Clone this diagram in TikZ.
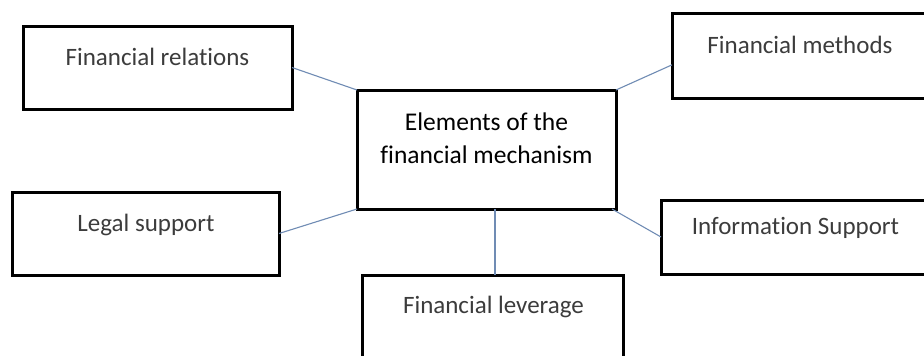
\documentclass[tikz,border=0pt]{standalone}
\usepackage{fontspec}
\setmainfont[Ligatures={NoCommon}]{Carlito}
\usetikzlibrary{calc}
\definecolor{linkblue}{RGB}{112,140,180}
\definecolor{sidetext}{RGB}{60,60,60}
\tikzset{
  box/.style={draw=black, line width=3pt, inner sep=0pt, outer sep=0pt, fill=white},
  sidelabel/.style={anchor=base, inner sep=0pt, text=sidetext, font=\fontsize{25}{30}\selectfont},
  mainlabel/.style={anchor=base, inner sep=0pt, text=black, font=\fontsize{25.5}{31}\selectfont},
  link/.style={draw=linkblue, line width=1.1pt}
}
\begin{document}
\begin{tikzpicture}[x=1pt,y=-1pt]
\fill[white] (0,0) rectangle (924,356);
\useasboundingbox (0,0) rectangle (924,356);
\clip (0,0) rectangle (924,356);
% boxes
\node[box, minimum width=269pt, minimum height=83pt] (rel) at (157.5,67.5) {};
\node[box, minimum width=256pt, minimum height=85pt] (meth) at (800,55.5) {};
\node[box, minimum width=259pt, minimum height=119pt] (ctr) at (486.5,149.5) {};
\node[box, minimum width=267pt, minimum height=83pt] (legal) at (145.5,233.5) {};
\node[box, minimum width=270pt, minimum height=74pt] (info) at (796,237) {};
\node[box, minimum width=261pt, minimum height=90pt] (lev) at (492.5,320) {};
% labels
\node[sidelabel] (relT) at (157.5,65) {Financial relations};
\node[sidelabel] (methT) at (800,53) {Financial methods};
\node[mainlabel] (ctrA) at (486.5,130) {Elements of the};
\node[mainlabel] (ctrB) at (486.5,163) {financial mechanism};
\node[sidelabel] (legalT) at (146,231) {Legal support};
\node[sidelabel] (infoT) at (795.5,234) {Information Support};
\node[sidelabel] (levT) at (493.5,313) {Financial leverage};
% connectors
\draw[link] (rel.east) -- (ctr.north west);
\draw[link] ($(meth.south west)!0.39!(meth.north west)$) -- (ctr.north east);
\draw[link] (legal.east) -- (ctr.south west);
\draw[link] ([xshift=-4pt]ctr.south east) -- (info.west);
\draw[link] ([xshift=2.5pt]lev.north) -- ([xshift=2.5pt]lev.north |- ctr.south);
\end{tikzpicture}
\end{document}
